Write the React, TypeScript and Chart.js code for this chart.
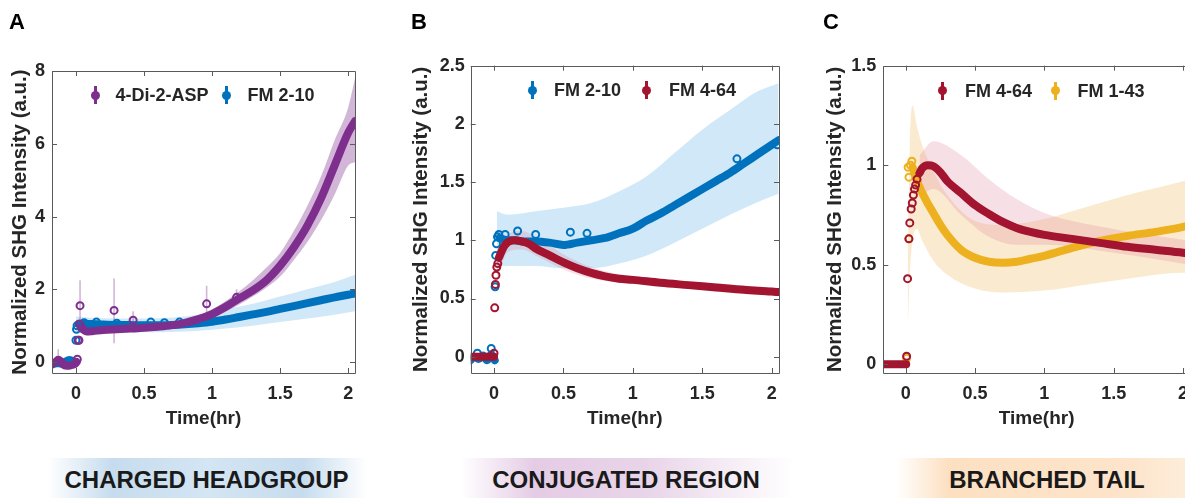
import React, { useEffect, useRef } from "react";
import { Chart, registerables } from "chart.js";
Chart.register(...registerables);

const FONT = "'Liberation Sans', Arial, Helvetica, sans-serif";
const TEXT = "#262626";

const PURPLE = "#7E2F8E";
const BLUE = "#0072BD";
const RED = "#A2142F";
const YELLOW = "#EDB120";

const PURPLE_BAND = "rgba(126,47,142,0.35)";
const BLUE_BAND = "rgba(110,185,230,0.32)";
const RED_BAND = "rgba(220,120,150,0.24)";
const YELLOW_BAND = "rgba(240,190,100,0.30)";

const xTickVals = [0, 0.5, 1, 1.5, 2];
const aYTicks = [0, 2, 4, 6, 8];
const bYTicks = [0, 0.5, 1, 1.5, 2, 2.5];
const cYTicks = [0, 0.5, 1, 1.5];

// ---------- Panel A : 4-Di-2-ASP (purple) ----------
const aspBaseT = [-0.17, -0.15, -0.13, -0.11, -0.09, -0.07, -0.05, -0.03, -0.01, 0.005];
const aspBaseY = [-0.05, 0.0, 0.05, 0.02, -0.08, -0.1, -0.1, -0.08, -0.06, 0.0];
const aspRiseT = [0.01, 0.016, 0.022, 0.026, 0.04];
const aspRiseY = [0.08, 0.6, 0.6, 1.05, 0.95];
const aspT = [0.05, 0.08, 0.12, 0.2, 0.3, 0.4, 0.5, 0.6, 0.7, 0.8, 0.9, 1.0, 1.1, 1.2, 1.3, 1.4, 1.5, 1.6, 1.7, 1.8, 1.9, 2.0, 2.05];
const aspY = [0.9, 0.84, 0.85, 0.88, 0.9, 0.92, 0.94, 0.97, 1.01, 1.08, 1.18, 1.32, 1.52, 1.75, 1.97, 2.25, 2.65, 3.15, 3.75, 4.5, 5.4, 6.3, 6.62];
const aspErrT = [-0.13, 0.03, 0.28, 0.42, 0.96, 1.18];
const aspErrY = [0.05, 1.55, 1.42, 1.15, 1.6, 1.78];
const aspErrLo = [-0.1, 0.9, 0.52, 0.95, 1.25, 1.6];
const aspErrHi = [0.35, 2.25, 2.3, 1.4, 2.1, 2.0];
const aspBandT = [0.06, 0.2, 0.4, 0.6, 0.8, 1.0, 1.1, 1.2, 1.3, 1.4, 1.5, 1.6, 1.7, 1.8, 1.9, 2.0, 2.05];
const aspBandLo = [0.8, 0.84, 0.87, 0.91, 1.0, 1.2, 1.38, 1.58, 1.8, 2.05, 2.35, 2.8, 3.3, 3.9, 4.6, 5.4, 5.5];
const aspBandHi = [0.9, 0.92, 0.97, 1.02, 1.14, 1.45, 1.68, 1.95, 2.25, 2.6, 3.0, 3.6, 4.3, 5.1, 6.1, 7.0, 7.8];

// ---------- Panel A : FM 2-10 (blue) ----------
const a210BaseT = [-0.17, -0.14, -0.11, -0.08, -0.05, -0.02, 0.0];
const a210BaseY = [-0.06, -0.03, -0.04, 0.0, 0.06, 0.02, 0.0];
const a210RiseT = [0.0, 0.004, 0.008];
const a210RiseY = [0.6, 0.9, 1.0];
const a210T = [0.02, 0.1, 0.2, 0.3, 0.4, 0.5, 0.6, 0.7, 0.8, 0.9, 1.0, 1.1, 1.2, 1.3, 1.4, 1.5, 1.6, 1.7, 1.8, 1.9, 2.0, 2.05];
const a210Y = [1.05, 1.05, 1.03, 1.02, 1.02, 1.01, 1.01, 1.02, 1.04, 1.07, 1.11, 1.17, 1.24, 1.31, 1.38, 1.46, 1.54, 1.62, 1.7, 1.78, 1.85, 1.89];
const a210DotT = [0.06, 0.15, 0.3, 0.55, 0.65, 0.76];
const a210DotY = [1.08, 1.1, 1.07, 1.1, 1.08, 1.1];
const a210BandT = [0.0, 0.1, 0.3, 0.5, 0.7, 0.9, 1.1, 1.3, 1.5, 1.7, 1.9, 2.05];
const a210BandLo = [0.8, 0.82, 0.82, 0.82, 0.83, 0.86, 0.92, 1.0, 1.1, 1.2, 1.3, 1.4];
const a210BandHi = [1.25, 1.22, 1.2, 1.2, 1.22, 1.3, 1.45, 1.6, 1.8, 2.0, 2.2, 2.4];

// ---------- Panel B : FM 2-10 (blue) ----------
const b210BaseT = [-0.17, -0.14, -0.11, -0.08, -0.05, -0.02, 0.005];
const b210BaseY = [-0.03, 0.0, -0.02, 0.01, -0.03, 0.02, -0.03];
const b210RiseT = [0.008, 0.012, 0.018, 0.025, 0.035];
const b210RiseY = [0.6, 0.87, 0.97, 1.03, 1.05];
const b210T = [0.04, 0.1, 0.15, 0.2, 0.3, 0.4, 0.5, 0.6, 0.7, 0.8, 0.9, 1.0, 1.1, 1.2, 1.3, 1.4, 1.5, 1.6, 1.7, 1.8, 1.9, 2.0, 2.05];
const b210Y = [1.02, 1.0, 1.0, 0.99, 0.99, 0.98, 0.96, 0.98, 1.0, 1.02, 1.06, 1.1, 1.17, 1.23, 1.3, 1.37, 1.44, 1.51, 1.58, 1.66, 1.74, 1.82, 1.86];
const b210DotT = [-0.12, -0.02, 0.08, 0.17, 0.3, 0.55, 0.67, 1.75, 2.04];
const b210DotY = [0.03, 0.07, 1.05, 1.08, 1.05, 1.07, 1.06, 1.7, 1.82];
const b210BandT = [0.02, 0.1, 0.3, 0.5, 0.7, 0.9, 1.1, 1.3, 1.5, 1.7, 1.9, 2.05];
const b210BandLo = [0.78, 0.78, 0.78, 0.76, 0.76, 0.8, 0.87, 0.98, 1.1, 1.22, 1.33, 1.4];
const b210BandHi = [1.25, 1.22, 1.25, 1.28, 1.32, 1.42, 1.55, 1.75, 1.95, 2.12, 2.28, 2.35];

// ---------- Panel B : FM 4-64 (red) ----------
const b464BaseT = [-0.17, -0.12, -0.07, -0.02, 0.0];
const b464BaseY = [0, 0, 0, 0, 0];
const b464RiseT = [0.0, 0.005, 0.01, 0.014, 0.02, 0.027];
const b464RiseY = [0.03, 0.42, 0.62, 0.7, 0.77, 0.8];
const b464T = [0.035, 0.06, 0.08, 0.1, 0.15, 0.2, 0.25, 0.3, 0.4, 0.5, 0.6, 0.7, 0.8, 0.9, 1.0, 1.2, 1.4, 1.6, 1.8, 2.0, 2.05];
const b464Y = [0.85, 0.92, 0.96, 0.985, 1.0, 0.99, 0.97, 0.93, 0.87, 0.81, 0.76, 0.72, 0.69, 0.67, 0.66, 0.635, 0.615, 0.595, 0.575, 0.56, 0.555];
const b464BandT = [0.02, 0.1, 0.2, 0.3, 0.5, 0.7, 1.0, 1.5, 2.05];
const b464BandLo = [0.65, 0.9, 0.92, 0.87, 0.75, 0.67, 0.63, 0.58, 0.52];
const b464BandHi = [0.9, 1.05, 1.08, 1.03, 0.88, 0.77, 0.69, 0.64, 0.59];

// ---------- Panel C : FM 4-64 (red) ----------
const c464BaseT = [-0.17, -0.12, -0.07, -0.02, 0.004];
const c464BaseY = [0, 0, 0, 0, 0];
const c464RiseT = [0.007, 0.014, 0.024, 0.03, 0.04, 0.048, 0.056, 0.064, 0.072, 0.082];
const c464RiseY = [0.04, 0.43, 0.63, 0.71, 0.78, 0.81, 0.85, 0.88, 0.9, 0.93];
const c464T = [0.1, 0.12, 0.16, 0.2, 0.25, 0.3, 0.4, 0.5, 0.6, 0.7, 0.8, 0.9, 1.0, 1.2, 1.4, 1.6, 1.8, 2.0, 2.05];
const c464Y = [0.96, 0.985, 1.0, 0.995, 0.965, 0.92, 0.86, 0.8, 0.755, 0.715, 0.685, 0.665, 0.65, 0.63, 0.61, 0.59, 0.575, 0.56, 0.555];
const c464BandT = [0.1, 0.2, 0.4, 0.6, 0.8, 1.0, 1.5, 2.05];
const c464BandLo = [0.84, 0.88, 0.75, 0.64, 0.6, 0.6, 0.56, 0.5];
const c464BandHi = [1.05, 1.12, 1.05, 0.93, 0.83, 0.76, 0.68, 0.62];

// ---------- Panel C : FM 1-43 (yellow) ----------
const c143RiseT = [0.007, 0.022, 0.018, 0.024, 0.035, 0.045];
const c143RiseY = [0.03, 0.63, 0.99, 0.94, 1.0, 1.02];
const c143T = [0.05, 0.08, 0.1, 0.15, 0.2, 0.25, 0.3, 0.4, 0.5, 0.6, 0.7, 0.8, 0.9, 1.0, 1.2, 1.4, 1.6, 1.8, 2.0, 2.05];
const c143Y = [0.99, 0.93, 0.89, 0.82, 0.76, 0.7, 0.65, 0.575, 0.535, 0.515, 0.51, 0.515, 0.53, 0.545, 0.585, 0.62, 0.645, 0.665, 0.69, 0.7];
const c143BandT = [0.015, 0.03, 0.05, 0.08, 0.12, 0.2, 0.3, 0.5, 0.7, 1.0, 1.3, 1.6, 2.0, 2.05];
const c143BandLo = [0.17, 0.45, 0.62, 0.68, 0.62, 0.52, 0.45, 0.38, 0.36, 0.37, 0.4, 0.43, 0.46, 0.46];
const c143BandHi = [0.5, 1.1, 1.3, 1.2, 1.1, 0.97, 0.85, 0.72, 0.7, 0.73, 0.79, 0.85, 0.92, 0.93];

type Series = {
  color: string;
  band: string;
  bandT: number[];
  bandLo: number[];
  bandHi: number[];
  baseT?: number[];
  baseY?: number[];
  mainT: number[];
  mainY: number[];
  riseT?: number[];
  riseY?: number[];
  dotT?: number[];
  dotY?: number[];
  errT?: number[];
  errY?: number[];
  errLo?: number[];
  errHi?: number[];
};

const xy = (t: number[], v: number[]) => t.map((x, i) => ({ x, y: v[i] }));
const bars = (t: number[], lo: number[], hi: number[]) => {
  const out: any[] = [];
  t.forEach((x, i) => {
    out.push({ x, y: lo[i] }, { x, y: hi[i] }, { x, y: null });
  });
  return out;
};

function buildDatasets(series: Series[]) {
  const ds: any[] = [];
  series.forEach((s, i) => {
    const bandOrder = 100 - i;
    ds.push({ data: xy(s.bandT, s.bandLo), borderWidth: 0, pointRadius: 0, fill: false, order: bandOrder, cubicInterpolationMode: "monotone" });
    ds.push({ data: xy(s.bandT, s.bandHi), borderWidth: 0, pointRadius: 0, fill: "-1", backgroundColor: s.band, order: bandOrder, cubicInterpolationMode: "monotone" });
  });
  series.forEach((s, i) => {
    if (s.errT) {
      ds.push({ data: bars(s.errT, s.errLo!, s.errHi!), borderColor: s.band, borderWidth: 1.6, pointRadius: 0, spanGaps: false, order: 60 - i });
    }
  });
  series.forEach((s, i) => {
    const ord = 20 - i * 5;
    const lineStyle = { borderColor: s.color, borderWidth: 8, pointRadius: 0, borderCapStyle: "round", borderJoinStyle: "round", cubicInterpolationMode: "monotone", fill: false };
    if (s.baseT) ds.push({ ...lineStyle, data: xy(s.baseT, s.baseY!), order: ord });
    ds.push({ ...lineStyle, data: xy(s.mainT, s.mainY), order: ord });
    const dot = { showLine: false, pointRadius: 3.5, pointBorderWidth: 2, pointBorderColor: s.color, pointBackgroundColor: "rgba(255,255,255,0)", order: ord - 1 };
    if (s.riseT) ds.push({ ...dot, data: xy(s.riseT, s.riseY!) });
    if (s.dotT) ds.push({ ...dot, data: xy(s.dotT, s.dotY!) });
    if (s.errT) ds.push({ ...dot, data: xy(s.errT, s.errY!) });
  });
  return ds;
}

const boxPlugin = {
  id: "matlabBox",
  afterDatasetsDraw(chart: any) {
    const { ctx, chartArea } = chart;
    const { left, right, top, bottom } = chartArea;
    const xs = chart.scales.x;
    const ys = chart.scales.y;
    ctx.save();
    ctx.strokeStyle = "#5a5a5a";
    ctx.lineWidth = 1;
    ctx.beginPath();
    ctx.rect(Math.round(left) + 0.5, Math.round(top) + 0.5, Math.round(right - left), Math.round(bottom - top));
    const L = 5;
    xs.ticks.forEach((t: any) => {
      const p = Math.round(xs.getPixelForValue(t.value)) + 0.5;
      ctx.moveTo(p, bottom);
      ctx.lineTo(p, bottom - L);
      ctx.moveTo(p, top);
      ctx.lineTo(p, top + L);
    });
    ys.ticks.forEach((t: any) => {
      const p = Math.round(ys.getPixelForValue(t.value)) + 0.5;
      ctx.moveTo(left, p);
      ctx.lineTo(left + L, p);
      ctx.moveTo(right, p);
      ctx.lineTo(right - L, p);
    });
    ctx.stroke();
    ctx.restore();
  },
};

type PanelCfg = {
  left: number;
  width: number;
  padLeft: number;
  padRight: number;
  padTop: number;
  yWidth: number;
  yPad: number;
  xMin: number;
  xMax: number;
  yMin: number;
  yMax: number;
  yTicks: number[];
  series: Series[];
};

const H = 440;

function Panel({ cfg }: { cfg: PanelCfg }) {
  const ref = useRef<HTMLCanvasElement>(null);
  useEffect(() => {
    const tickFont = { family: FONT, size: 18, weight: "bold" as const };
    const xTitleFont = { family: FONT, size: 19, weight: "bold" as const };
    const yTitleFont = { family: FONT, size: 20.5, weight: "bold" as const };
    const chart = new Chart(ref.current!, {
      type: "line",
      data: { datasets: buildDatasets(cfg.series) },
      options: {
        responsive: false,
        animation: false,
        events: [],
        layout: { padding: { left: cfg.padLeft, right: cfg.padRight, top: cfg.padTop, bottom: 9.6 } },
        plugins: { legend: { display: false }, tooltip: { enabled: false }, filler: { propagate: false } } as any,
        scales: {
          x: {
            type: "linear",
            min: cfg.xMin,
            max: cfg.xMax,
            afterBuildTicks: (s: any) => {
              s.ticks = xTickVals.map((v) => ({ value: v }));
            },
            afterFit: (s: any) => {
              s.height = 57.4;
            },
            grid: { display: false, drawTicks: false },
            border: { display: false },
            ticks: { font: tickFont, color: TEXT, padding: 10, maxRotation: 0, autoSkip: false, callback: (v: any) => String(v) },
            title: { display: true, text: "Time(hr)", font: xTitleFont, color: TEXT, padding: 0 },
          },
          y: {
            type: "linear",
            min: cfg.yMin,
            max: cfg.yMax,
            afterBuildTicks: (s: any) => {
              s.ticks = cfg.yTicks.map((v) => ({ value: v }));
            },
            afterFit: (s: any) => {
              s.width = cfg.yWidth;
            },
            grid: { display: false, drawTicks: false },
            border: { display: false },
            ticks: { font: tickFont, color: TEXT, padding: cfg.yPad, autoSkip: false, callback: (v: any) => String(v) },
            title: { display: true, text: "Normalized SHG Intensity (a.u.)", font: yTitleFont, color: TEXT, padding: 0 },
          },
        },
      } as any,
      plugins: [boxPlugin],
    });
    return () => chart.destroy();
  }, [cfg]);
  return (
    <canvas
      ref={ref}
      width={cfg.width}
      height={H}
      style={{ position: "absolute", left: cfg.left, top: 0, width: cfg.width, height: H }}
    />
  );
}

const panelA: PanelCfg = {
  left: 0, width: 380, padLeft: 7.7, padRight: 25, padTop: 71, yWidth: 44.3, yPad: 7,
  xMin: -0.176, xMax: 2.05, yMin: -0.3, yMax: 8, yTicks: aYTicks,
  series: [
    { color: BLUE, band: BLUE_BAND, bandT: a210BandT, bandLo: a210BandLo, bandHi: a210BandHi, baseT: a210BaseT, baseY: a210BaseY, mainT: a210T, mainY: a210Y, riseT: a210RiseT, riseY: a210RiseY, dotT: a210DotT, dotY: a210DotY },
    { color: PURPLE, band: PURPLE_BAND, bandT: aspBandT, bandLo: aspBandLo, bandHi: aspBandHi, baseT: aspBaseT, baseY: aspBaseY, mainT: aspT, mainY: aspY, riseT: aspRiseT, riseY: aspRiseY, errT: aspErrT, errY: aspErrY, errLo: aspErrLo, errHi: aspErrHi },
  ],
};

const panelB: PanelCfg = {
  left: 390, width: 400, padLeft: 19.4, padRight: 11, padTop: 65.7, yWidth: 61.3, yPad: 6,
  xMin: -0.168, xMax: 2.053, yMin: -0.14, yMax: 2.5, yTicks: bYTicks,
  series: [
    { color: BLUE, band: BLUE_BAND, bandT: b210BandT, bandLo: b210BandLo, bandHi: b210BandHi, baseT: b210BaseT, baseY: b210BaseY, mainT: b210T, mainY: b210Y, riseT: b210RiseT, riseY: b210RiseY, dotT: b210DotT, dotY: b210DotY },
    { color: RED, band: RED_BAND, bandT: b464BandT, bandLo: b464BandLo, bandHi: b464BandHi, baseT: b464BaseT, baseY: b464BaseY, mainT: b464T, mainY: b464Y, riseT: b464RiseT, riseY: b464RiseY },
  ],
};

const panelC: PanelCfg = {
  left: 785, width: 420, padLeft: 37.7, padRight: 15, padTop: 65.7, yWidth: 60.6, yPad: 7,
  xMin: -0.161, xMax: 2.05, yMin: -0.044, yMax: 1.5, yTicks: cYTicks,
  series: [
    { color: YELLOW, band: YELLOW_BAND, bandT: c143BandT, bandLo: c143BandLo, bandHi: c143BandHi, mainT: c143T, mainY: c143Y, riseT: c143RiseT, riseY: c143RiseY },
    { color: RED, band: RED_BAND, bandT: c464BandT, bandLo: c464BandLo, bandHi: c464BandHi, baseT: c464BaseT, baseY: c464BaseY, mainT: c464T, mainY: c464Y, riseT: c464RiseT, riseY: c464RiseY },
  ],
};

function LegendItem({ x, textX, y, color, label }: { x: number; textX: number; y: number; color: string; label: string }) {
  return (
    <>
      <div style={{ position: "absolute", left: x - 1.5, top: y - 9, width: 3, height: 18, background: color }} />
      <div style={{ position: "absolute", left: x - 4.5, top: y - 4.5, width: 9, height: 9, borderRadius: "50%", background: color }} />
      <div style={{ position: "absolute", left: textX, top: y - 9, fontSize: 18, lineHeight: "18px", fontWeight: "bold", color: TEXT, whiteSpace: "nowrap" }}>{label}</div>
    </>
  );
}

function Letter({ x, ch }: { x: number; ch: string }) {
  return <div style={{ position: "absolute", left: x, top: 10.5, fontSize: 22, lineHeight: "22px", fontWeight: "bold", color: "#000" }}>{ch}</div>;
}

function Banner({ left, width, bg, text, cx }: { left: number; width: number; bg: string; text: string; cx: number }) {
  return (
    <>
      <div style={{ position: "absolute", left, top: 458, width, height: 40, background: bg }} />
      <div style={{ position: "absolute", left: cx - 200, width: 400, top: 468, textAlign: "center", fontSize: 24, lineHeight: "24px", fontWeight: "bold", color: "#1a1a1a", whiteSpace: "nowrap" }}>{text}</div>
    </>
  );
}

export default function App() {
  return (
    <div style={{ position: "fixed", left: 0, top: 0, width: 1185, height: 498, overflow: "hidden", background: "#fff", fontFamily: FONT }}>
      <Panel cfg={panelA} />
      <Panel cfg={panelB} />
      <Panel cfg={panelC} />
      <Letter x={9} ch="A" />
      <Letter x={411} ch="B" />
      <Letter x={823} ch="C" />
      <LegendItem x={95} textX={115.5} y={95} color={PURPLE} label="4-Di-2-ASP" />
      <LegendItem x={226} textX={247.5} y={95} color={BLUE} label="FM 2-10" />
      <LegendItem x={532.7} textX={554} y={90} color={BLUE} label="FM 2-10" />
      <LegendItem x={646.7} textX={669} y={90} color={RED} label="FM 4-64" />
      <LegendItem x={942.7} textX={965} y={90.5} color={RED} label="FM 4-64" />
      <LegendItem x={1055} textX={1077.5} y={90.5} color={YELLOW} label="FM 1-43" />
      <Banner left={48} width={319} cx={206.5} text="CHARGED HEADGROUP"
        bg="linear-gradient(to right, rgba(198,220,238,0) 0%, rgba(198,220,238,1) 20%, rgba(212,229,243,1) 50%, rgba(198,220,238,1) 80%, rgba(198,220,238,0) 100%)" />
      <Banner left={461} width={333} cx={626} text="CONJUGATED REGION"
        bg="linear-gradient(to right, rgba(229,204,229,0) 0%, rgba(229,204,229,1) 22%, rgba(232,212,232,1) 55%, rgba(229,204,229,0) 100%)" />
      <Banner left={896} width={289} cx={1047} text="BRANCHED TAIL"
        bg="linear-gradient(to right, rgba(253,224,194,0) 0%, rgba(253,224,194,1) 18%, rgba(253,228,202,1) 80%, rgba(253,224,194,0.6) 100%)" />
    </div>
  );
}
